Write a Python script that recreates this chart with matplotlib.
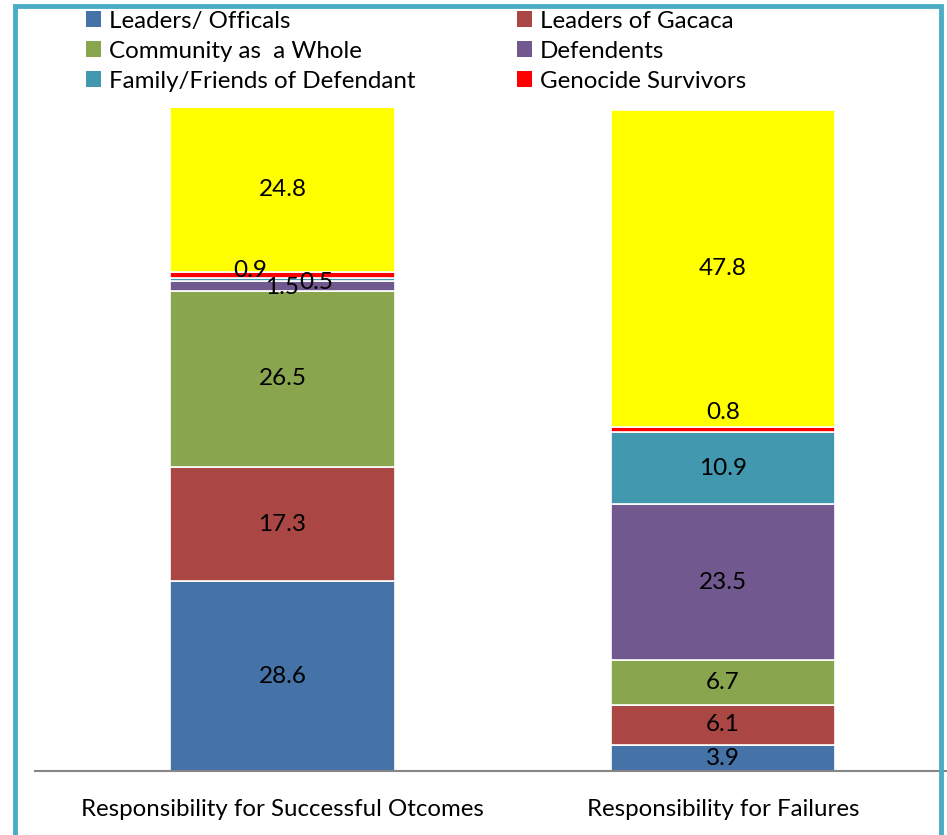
import matplotlib
matplotlib.use("Agg")
import matplotlib.pyplot as plt
from matplotlib.patches import Rectangle, Patch

categories = ["Responsibility for Successful Otcomes", "Responsibility for Failures"]
series_names = ["Leaders/ Officals", "Leaders of Gacaca", "Community as  a Whole",
                "Defendents", "Family/Friends of Defendant", "Genocide Survivors", "Other"]
leaders_officials = [28.6, 3.9]
leaders_gacaca = [17.3, 6.1]
community = [26.5, 6.7]
defendents = [1.5, 23.5]
family_friends = [0.5, 10.9]
survivors = [0.9, 0.8]
other = [24.8, 47.8]

values = [leaders_officials, leaders_gacaca, community, defendents, family_friends, survivors, other]
colors = ["#4572A7", "#AA4643", "#89A54E", "#71588F", "#4198AF", "#FF0000", "#FFFF00"]

plt.rcParams['font.family'] = ['Lato', 'DejaVu Sans']

W, H = 947, 835
fig = plt.figure(figsize=(W / 100, H / 100), dpi=100)
ax = fig.add_axes([35 / W, (H - 771) / H, (W - 35) / W, (771 - 108) / H])

x = [0, 1]
bottoms = [0.0, 0.0]
bars = []
for name, vals, col in zip(series_names, values, colors):
    b = ax.bar(x, vals, width=0.51, bottom=bottoms, color=col, edgecolor="white",
               linewidth=1.2, label=name if name != "Other" else "_nolegend_")
    bars.append(b)
    bottoms = [bb + v for bb, v in zip(bottoms, vals)]

# data labels
label_offsets = {  # (series index, bar index): (dx, dy) in data units for small segments
    (3, 0): (0.0, -0.15),
    (4, 0): (0.077, -0.4),
    (5, 0): (-0.073, 0.7),
    (5, 1): (0.0, 2.6),
}
for si, b in enumerate(bars):
    for bi, rect in enumerate(b):
        v = values[si][bi]
        cx = rect.get_x() + rect.get_width() / 2
        cy = rect.get_y() + rect.get_height() / 2
        dx, dy = label_offsets.get((si, bi), (0, 0))
        ax.text(cx + dx, cy + dy, f"{v}", ha="center", va="center", fontsize=17.5, color="black")

ax.set_xlim(-0.562, 1.509)
ax.set_ylim(0, 100)
ax.set_yticks([])
ax.set_xticks(x)
ax.set_xticklabels(categories, fontsize=17.3)
ax.tick_params(axis="x", length=0, pad=20)
for s in ["top", "right", "left"]:
    ax.spines[s].set_visible(False)
ax.spines["bottom"].set_color("#868686")
ax.spines["bottom"].set_linewidth(1.5)
ax.patch.set_alpha(0)

handles = [Patch(facecolor=c) for c in colors[:6]]
order = [0, 2, 4, 1, 3, 5]
fig.legend([handles[i] for i in order], [series_names[i] for i in order], ncol=2,
           loc="upper left", bbox_to_anchor=(76 / W, 1 - 1 / H), frameon=False,
           fontsize=17.4, handlelength=0.65, handleheight=0.65, handletextpad=0.3,
           columnspacing=4.2, labelspacing=0.37, borderaxespad=0)

fig.patches.append(Rectangle((15 / W, -0.1), (941 - 15) / W, 1.1 - 5.5 / H,
                             transform=fig.transFigure, fill=False,
                             edgecolor="#4BACC6", linewidth=3.5, zorder=10))

fig.savefig("out.png", dpi=100)
